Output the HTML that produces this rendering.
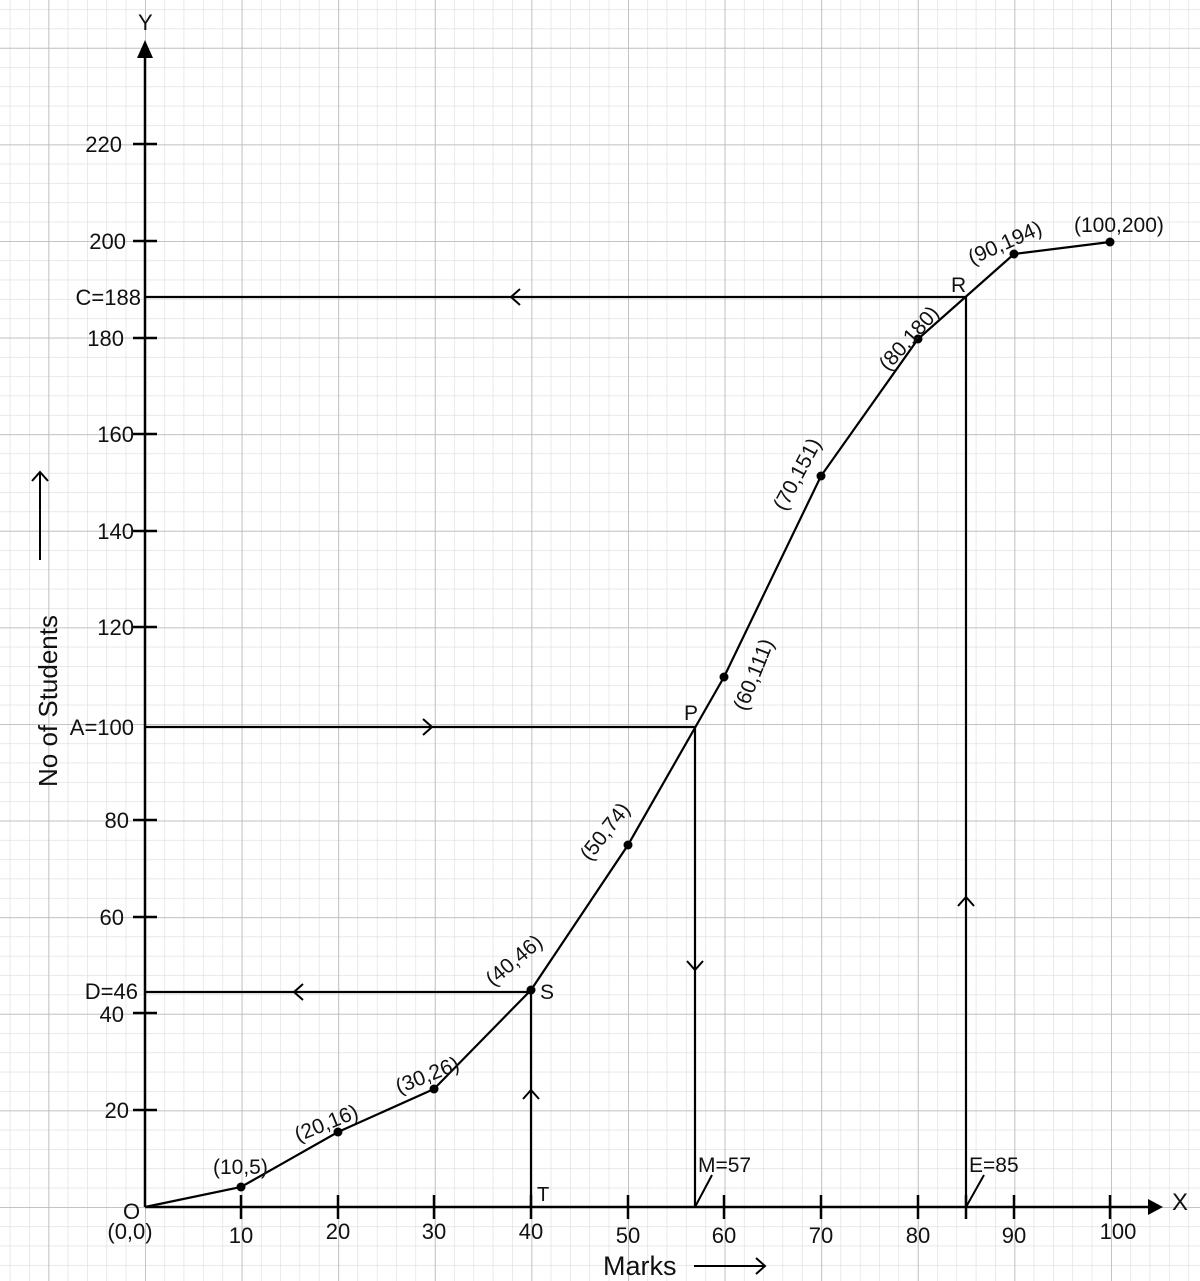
<!DOCTYPE html>
<html><head><meta charset="utf-8"><style>
html,body{margin:0;padding:0;background:#fff}
svg{display:block}
text{font-family:"Liberation Sans",sans-serif;fill:#111}
</style></head><body>
<svg width="1200" height="1281" viewBox="0 0 1200 1281" xmlns="http://www.w3.org/2000/svg">
<defs>
<pattern id="minor" x="145" y="1207" width="19.32" height="19.32" patternUnits="userSpaceOnUse">
<path d="M0 0H19.32M0 0V19.32" stroke="#dcdcdc" stroke-width="1.2" fill="none"/>
</pattern>
<pattern id="major" x="145" y="1207" width="96.6" height="96.6" patternUnits="userSpaceOnUse">
<path d="M0 0H96.6M0 0V96.6" stroke="#bdbdbd" stroke-width="1.8" fill="none"/>
</pattern>
</defs>
<rect width="1200" height="1281" fill="#fff"/>
<rect width="1200" height="1281" fill="url(#minor)"/>
<rect width="1200" height="1281" fill="url(#major)"/>

<g stroke="#000" stroke-width="2.5" fill="none">
<line x1="145" y1="1207" x2="145" y2="55"/>
<line x1="145" y1="1207" x2="1150" y2="1207"/>
<path d="M133 144H157M133 241H157M133 338H157M133 434H157M133 531H157M133 627H157M133 820H157M133 917H157M133 1013H157M133 1110H157"/>
<path d="M241 1195V1219M338 1195V1219M434 1195V1219M531 1195V1219M628 1195V1219M724 1195V1219M821 1195V1219M918 1195V1219M1014 1195V1219M1110 1195V1219M966 1195V1219"/>
<polyline stroke-width="2.2" points="145,1207 241,1187 338,1132 434,1089 531,990 628,845 724,677 821,476 918,339 1014,254 1110,242"/>
<path stroke-width="2.2" d="M145 297H966V1207M145 727H695V1207M145 992H531V1207"/>
<path stroke-width="2" d="M520 289L511 297L520 305M423 719L432 727L423 735M687 961L695 970L703 961M958 906L966 897L974 906M303 984L294 992L303 1000M523 1099L531 1090L539 1099"/>
<path stroke-width="2" d="M695 1207L712 1175M966 1207L984 1175"/>
<path stroke-width="2" d="M694 1266H765M756 1258L765 1266L756 1274"/>
<path stroke-width="2" d="M40 560V472M32 481L40 472L48 481"/>
</g>
<polygon points="145,40 137,58 153,58" fill="#000"/>
<polygon points="1163,1207 1148,1199 1148,1215" fill="#000"/>
<g fill="#000">
<circle cx="241" cy="1187" r="4.5"/><circle cx="338" cy="1132" r="4.5"/><circle cx="434" cy="1089" r="4.5"/>
<circle cx="531" cy="990" r="4.5"/><circle cx="628" cy="845" r="4.5"/><circle cx="724" cy="677" r="4.5"/>
<circle cx="821" cy="476" r="4.5"/><circle cx="918" cy="339" r="4.5"/><circle cx="1014" cy="254" r="4.5"/>
<circle cx="1110" cy="242" r="4.5"/>
</g>

<g font-size="22" text-anchor="end">
<text x="122" y="152">220</text><text x="126" y="249">200</text><text x="141" y="305">C=188</text>
<text x="124" y="346">180</text><text x="134" y="442">160</text><text x="134" y="539">140</text>
<text x="134" y="635">120</text><text x="134" y="735">A=100</text><text x="129" y="828">80</text>
<text x="124" y="925">60</text><text x="138" y="999">D=46</text><text x="124" y="1022">40</text>
<text x="129" y="1118">20</text>
</g>
<g font-size="22" text-anchor="middle">
<text x="241" y="1243">10</text><text x="338" y="1239">20</text><text x="434" y="1239">30</text>
<text x="531" y="1239">40</text><text x="628" y="1243">50</text><text x="724" y="1243">60</text>
<text x="821" y="1243">70</text><text x="918" y="1243">80</text><text x="1014" y="1243">90</text>
<text x="1118" y="1239">100</text>
<text x="130" y="1239">(0,0)</text>
</g>
<text x="123" y="1219" font-size="22">O</text>
<text x="138" y="30" font-size="22">Y</text>
<text x="1172" y="1210" font-size="24">X</text>
<text x="537" y="1201" font-size="20">T</text>
<text x="698" y="1172" font-size="21">M=57</text>
<text x="969" y="1172" font-size="21">E=85</text>
<text x="540" y="999" font-size="21">S</text>
<text x="684" y="720" font-size="21">P</text>
<text x="951" y="292" font-size="21">R</text>
<text x="603" y="1275" font-size="27">Marks</text>
<text transform="translate(57,787) rotate(-90)" font-size="26">No of Students</text>

<g font-size="21">
<text x="213" y="1174">(10,5)</text>
<text transform="translate(298,1142) rotate(-22)">(20,16)</text>
<text transform="translate(399,1094) rotate(-22)">(30,26)</text>
<text transform="translate(493,987) rotate(-40)">(40,46)</text>
<text transform="translate(590,862) rotate(-52)">(50,74)</text>
<text transform="translate(746,712) rotate(-68)">(60,111)</text>
<text transform="translate(785,512) rotate(-62)">(70,151)</text>
<text transform="translate(888,372) rotate(-48)">(80,180)</text>
<text transform="translate(972,265) rotate(-24)">(90,194)</text>
<text x="1074" y="232">(100,200)</text>
</g>
</svg>
</body></html>
